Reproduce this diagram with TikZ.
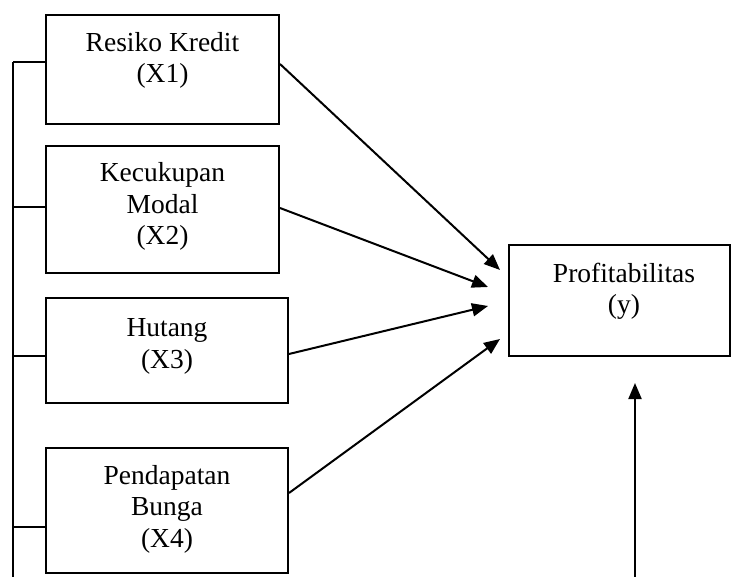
\documentclass[tikz,border=0pt]{standalone}
\usepackage{fontspec}
\setmainfont{Liberation Serif}
\usetikzlibrary{arrows.meta}
\tikzset{
  box/.style={draw, line width=2pt, inner sep=0pt},
  lbl/.style={align=center, font=\fontsize{27.5}{31.5}\selectfont, anchor=base, inner sep=0pt},
  ln/.style={line width=2pt},
  arr/.style={line width=2pt, -{Triangle[length=16pt,width=13pt]}}
}
\begin{document}
\begin{tikzpicture}[x=1pt,y=-1pt]
\useasboundingbox (0,0) rectangle (731,577);
% boxes
\node[box, minimum width=233pt, minimum height=109pt] (x1) at (162.5,69.5) {};
\node[box, minimum width=233pt, minimum height=127pt] (x2) at (162.5,209.5) {};
\node[box, minimum width=242pt, minimum height=105pt] (x3) at (167,350.5) {};
\node[box, minimum width=242pt, minimum height=125pt] (x4) at (167,510.5) {};
\node[box, minimum width=221pt, minimum height=111pt] (y) at (619.5,300.5) {};
% labels (anchor = baseline of last line)
\node[lbl] (t1) at (162.5,83) {Resiko Kredit\\(X1)};
\node[lbl] (t2) at (162.5,245) {Kecukupan\\Modal\\(X2)};
\node[lbl] (t3) at (167,368) {Hutang\\(X3)};
\node[lbl] (t4) at (167,547) {Pendapatan\\Bunga\\(X4)};
\node[lbl] (ty) at (624,314) {Profitabilitas\\(y)};
% trunk
\coordinate (top) at (13,62);
\coordinate (bot) at (13,580);
\draw[ln] (top) -- (bot);
\coordinate (b1) at (13,62);
\coordinate (b2) at (13,207);
\coordinate (b3) at (13,356);
\coordinate (b4) at (13,527);
\draw[ln] (b1) -- (b1 -| x1.west);
\draw[ln] (b2) -- (b2 -| x2.west);
\draw[ln] (b3) -- (b3 -| x3.west);
\draw[ln] (b4) -- (b4 -| x4.west);
% arrows
\coordinate (s1) at (x1.east |- 0,64);
\coordinate (s2) at (x2.east |- 0,208);
\coordinate (s3) at (x3.east |- 0,354);
\coordinate (s4) at (x4.east |- 0,493);
\coordinate (e1) at (500,270);
\coordinate (e2) at (488,287);
\coordinate (e3) at (488,306);
\coordinate (e4) at (500,339);
\draw[arr] (s1) -- (e1);
\draw[arr] (s2) -- (e2);
\draw[arr] (s3) -- (e3);
\draw[arr] (s4) -- (e4);
\coordinate (ub) at (635,580);
\coordinate (ut) at (635,383);
\draw[arr] (ub) -- (ut);
\end{tikzpicture}
\end{document}
